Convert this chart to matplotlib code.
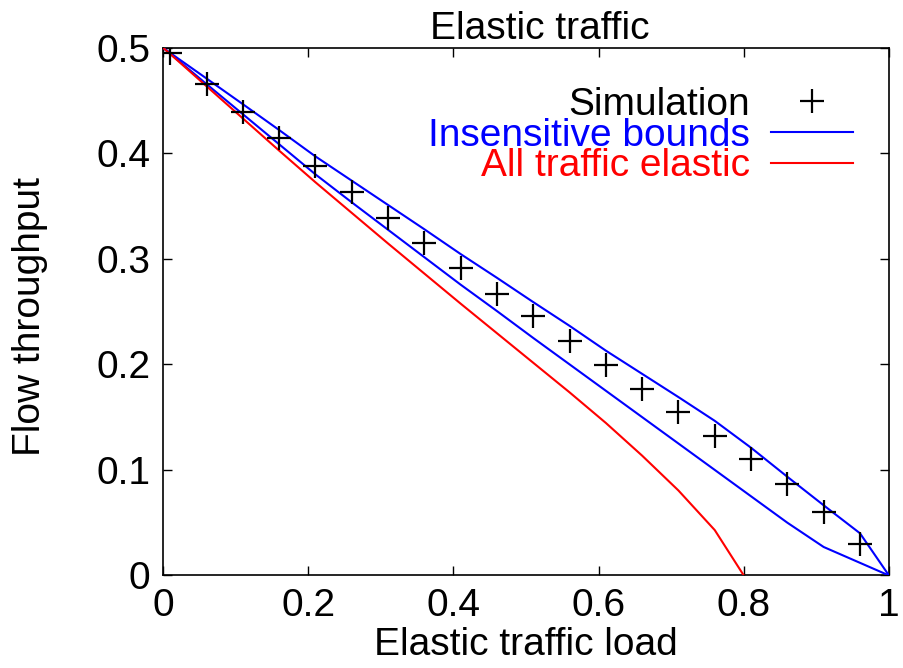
import matplotlib
matplotlib.use("Agg")
import matplotlib.pyplot as plt

# Simulation points
sim_x = [0.01, 0.06, 0.11, 0.16, 0.21, 0.26, 0.31, 0.36, 0.41, 0.46,
         0.51, 0.56, 0.61, 0.66, 0.71, 0.76, 0.81, 0.86, 0.91, 0.96]
sim_y = [0.495, 0.466, 0.439, 0.414, 0.388, 0.363, 0.339, 0.315, 0.291, 0.267,
         0.246, 0.222, 0.199, 0.177, 0.155, 0.132, 0.110, 0.087, 0.060, 0.030]

# Insensitive bounds (upper and lower)
bound_x = [0.0, 0.01, 0.06, 0.11, 0.16, 0.21, 0.26, 0.31, 0.36, 0.41, 0.46,
           0.51, 0.56, 0.61, 0.66, 0.71, 0.76, 0.81, 0.86, 0.91, 0.96, 1.0]
upper_y = [0.5, 0.495, 0.4708, 0.4465, 0.422, 0.397, 0.374, 0.351, 0.328, 0.3045, 0.282,
           0.259, 0.2365, 0.213, 0.191, 0.169, 0.1465, 0.121, 0.0935, 0.0665, 0.040, 0.0]
lower_y = [0.5, 0.4943, 0.4655, 0.437, 0.4085, 0.380, 0.3535, 0.3275, 0.3015, 0.2755, 0.2505,
           0.225, 0.200, 0.175, 0.150, 0.125, 0.100, 0.075, 0.050, 0.027, 0.012, 0.0]

# All traffic elastic
elastic_x = [0.0, 0.01, 0.06, 0.11, 0.16, 0.21, 0.26, 0.31, 0.36, 0.41, 0.46,
             0.51, 0.56, 0.61, 0.66, 0.71, 0.76, 0.80]
elastic_y = [0.5, 0.494, 0.4635, 0.433, 0.4025, 0.3725, 0.3435, 0.3145, 0.286, 0.2575, 0.2295,
             0.2015, 0.1735, 0.1445, 0.1135, 0.0805, 0.043, 0.0]

x_ticks = [0, 0.2, 0.4, 0.6, 0.8, 1]
x_tick_labels = ["0", "0.2", "0.4", "0.6", "0.8", "1"]
y_ticks = [0, 0.1, 0.2, 0.3, 0.4, 0.5]
y_tick_labels = ["0", "0.1", "0.2", "0.3", "0.4", "0.5"]

plt.rcParams['font.family'] = ['Liberation Sans', 'DejaVu Sans']
FS = 28

fig = plt.figure(figsize=(9.04, 6.68), dpi=100)
ax = fig.add_axes([0.1803, 0.1385, 0.8031, 0.7901])

ax.plot(sim_x, sim_y, linestyle='none', marker='+', markersize=17,
        markeredgewidth=1.6, color='black', label='Simulation', zorder=4)
ax.plot(bound_x, upper_y, color='#0000ff', lw=1.5, label='Insensitive bounds', zorder=3)
ax.plot(bound_x, lower_y, color='#0000ff', lw=1.5, zorder=3)
ax.plot(elastic_x, elastic_y, color='#ff0000', lw=1.5, label='All traffic elastic', zorder=3)

ax.set_xlim(0, 1)
ax.set_ylim(0, 0.5)
ax.set_xticks(x_ticks)
ax.set_xticklabels(x_tick_labels)
ax.set_yticks(y_ticks)
ax.set_yticklabels(y_tick_labels)
ax.tick_params(direction='in', length=6.5, width=1.0, labelsize=FS,
               top=True, right=True, pad=9)
for s in ax.spines.values():
    s.set_linewidth(1.2)

ax.set_title("Elastic traffic", fontsize=FS, pad=6, x=0.519)
ax.set_xlabel("Elastic traffic load", fontsize=FS, labelpad=2)
ax.set_ylabel("Flow throughput", fontsize=FS)
ax.yaxis.set_label_coords(-0.158, 0.49)

leg = ax.legend(loc='upper right', frameon=False, fontsize=FS, markerfirst=False,
                numpoints=1, handlelength=2.1, handletextpad=0.55,
                labelspacing=-0.14, borderaxespad=0.0,
                labelcolor=['black', '#0000ff', '#ff0000'],
                bbox_to_anchor=(0.972, 0.955))

fig.savefig("out.png", dpi=100)
